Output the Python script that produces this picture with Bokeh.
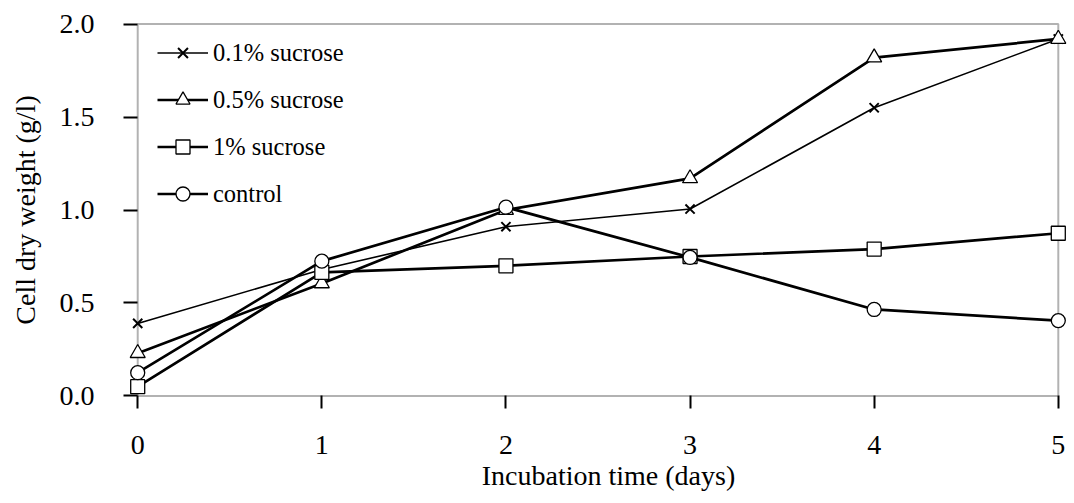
from bokeh.plotting import figure
from bokeh.models import (Range1d, FixedTicker, BoxAnnotation, Legend, LegendItem,
                          PrintfTickFormatter)
from bokeh.embed import file_html
from bokeh.resources import INLINE

days = [0, 1, 2, 3, 4, 5]
sucrose_01 = [0.39, 0.68, 0.91, 1.005, 1.55, 1.92]
sucrose_05 = [0.23, 0.605, 1.0, 1.17, 1.82, 1.92]
sucrose_1 = [0.05, 0.665, 0.70, 0.75, 0.79, 0.875]
control = [0.125, 0.725, 1.015, 0.745, 0.465, 0.405]
x_ticks = [0, 1, 2, 3, 4, 5]
y_ticks = [0.0, 0.5, 1.0, 1.5, 2.0]
labels = ["0.1% sucrose", "0.5% sucrose", "1% sucrose", "control"]

FONT = "Liberation Serif"

p = figure(width=1074, height=503, output_backend="svg", toolbar_location=None,
           x_range=Range1d(-0.05, 5.05), y_range=Range1d(-0.03, 2.03),
           min_border_left=128, min_border_right=7, min_border_top=18,
           min_border_bottom=102)
p.outline_line_color = None
p.grid.visible = False
p.background_fill_color = "white"
p.border_fill_color = "white"

frame = BoxAnnotation(left=0, right=5, bottom=0, top=2, fill_color=None,
                      line_color="black", line_width=2, level="underlay")
p.add_layout(frame)

# axes
p.xaxis.ticker = FixedTicker(ticks=x_ticks)
p.yaxis.ticker = FixedTicker(ticks=y_ticks)
p.yaxis.formatter = PrintfTickFormatter(format="%.1f")
for ax in (p.xaxis[0], p.yaxis[0]):
    ax.axis_line_color = None
    ax.minor_tick_line_color = None
    ax.major_tick_line_color = "black"
    ax.major_tick_line_width = 2
    ax.major_label_text_font = FONT
    ax.major_label_text_font_size = "28px"
    ax.major_label_text_color = "black"
    ax.axis_label_text_font = FONT
    ax.axis_label_text_font_size = "28px"
    ax.axis_label_text_font_style = "normal"
    ax.axis_label_text_color = "black"
# ticks reach in to the data edge (x=0 / y=0) and stick out past it
p.xaxis.major_tick_out = 7
p.xaxis.major_tick_in = 6
p.yaxis.major_tick_out = 5
p.yaxis.major_tick_in = 9
p.xaxis.major_label_standoff = 27
p.yaxis.major_label_standoff = 29
p.xaxis.axis_label = "\u00a0\u00a0\u00a0Incubation time (days)"
p.yaxis.axis_label = "Cell dry weight (g/l)"
p.xaxis.axis_label_standoff = 3
p.yaxis.axis_label_standoff = 16

# series
l1 = p.line(days, sucrose_01, line_color="black", line_width=1.6)
m1 = p.scatter(days, sucrose_01, marker="x", size=13, line_color="black", line_width=2)
l2 = p.line(days, sucrose_05, line_color="black", line_width=2.7)
m2 = p.scatter(days, sucrose_05, marker="triangle", size=15, line_color="black",
               fill_color="white", line_width=1.3)
l3 = p.line(days, sucrose_1, line_color="black", line_width=2.7)
m3 = p.scatter(days, sucrose_1, marker="square", size=14, line_color="black",
               fill_color="white", line_width=1.3)
l4 = p.line(days, control, line_color="black", line_width=2.7)
m4 = p.scatter(days, control, marker="circle", size=14, line_color="black",
               fill_color="white", line_width=1.3)

legend = Legend(items=[LegendItem(label=labels[0], renderers=[l1, m1]),
                       LegendItem(label=labels[1], renderers=[l2, m2]),
                       LegendItem(label=labels[2], renderers=[l3, m3]),
                       LegendItem(label=labels[3], renderers=[l4, m4])],
                location=(29, 190), glyph_width=51, glyph_height=35,
                label_height=35, spacing=12, padding=0, margin=0,
                label_standoff=5, border_line_color=None,
                background_fill_alpha=0,
                label_text_font=FONT, label_text_font_size="24.5px",
                label_text_color="black")
p.add_layout(legend)

open("out.html", "w").write(file_html(p, INLINE))
